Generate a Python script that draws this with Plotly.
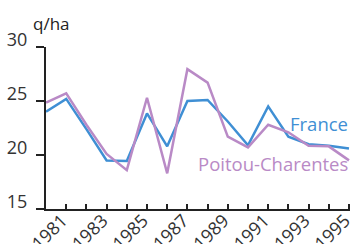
import plotly.graph_objects as go

years = list(range(1980, 1996))
france = [24.0, 25.2, 22.4, 19.5, 19.45, 23.85, 20.8, 25.0, 25.1, 23.1, 20.9, 24.5, 21.7, 21.0, 20.85, 20.6]
poitou = [24.85, 25.7, 22.8, 20.1, 18.6, 25.3, 18.3, 27.95, 26.7, 21.7, 20.7, 22.8, 22.1, 20.85, 20.8, 19.5]
y_ticks = [15, 20, 25, 30]
x_label_years = list(range(1981, 1996, 2))

BLUE = "#3f8fd4"
PURPLE = "#b98ac6"
FONT = "Open Sans"

fig = go.Figure()
fig.add_trace(go.Scatter(x=years, y=france, mode="lines", line=dict(color=BLUE, width=2.5), name="France"))
fig.add_trace(go.Scatter(x=years, y=poitou, mode="lines", line=dict(color=PURPLE, width=2.5), name="Poitou-Charentes"))

fig.update_layout(
    width=350, height=244,
    margin=dict(l=46, r=0, t=47, b=35),
    paper_bgcolor="white", plot_bgcolor="white",
    showlegend=False,
    font=dict(family=FONT, color="#333333"),
    xaxis=dict(
        range=[1980, 1995.05], automargin=False,
        tickmode="array", tickvals=x_label_years, ticktext=[str(y) for y in x_label_years],
        tickangle=-45, ticks="inside", ticklen=5, tickwidth=1.5, tickcolor="#222",
        minor=dict(dtick=1, tick0=1980, ticks="inside", ticklen=5, tickwidth=1.5, tickcolor="#222"),
        showline=True, linecolor="#222", linewidth=2,
        showgrid=False, zeroline=False,
        ticklabelstandoff=-8, ticklabelshift=-4, ticklabeloverflow="allow",
        tickfont=dict(size=18, family=FONT, color="#333333"),
    ),
    yaxis=dict(
        range=[15, 30], automargin=False,
        tickmode="array", tickvals=y_ticks,
        ticks="outside", ticklen=8, tickwidth=1.5, tickcolor="#222",
        showline=True, linecolor="#222", linewidth=2,
        showgrid=False, zeroline=False,
        ticklabelshift=-7, ticklabelstandoff=5, ticklabeloverflow="allow",
        tickfont=dict(size=18, family=FONT, color="#333333"),
    ),
    annotations=[
        dict(text="q/ha", xref="paper", yref="paper", x=-0.05, y=1.0, xanchor="left", yanchor="bottom",
             showarrow=False, font=dict(size=17, family=FONT, color="#222"), yshift=10),
        dict(text="France", xref="paper", yref="paper", x=1.0, y=(244 - 35 - 123) / 162, xanchor="right", yanchor="middle",
             showarrow=False, font=dict(size=18.5, family=FONT, color=BLUE)),
        dict(text="Poitou-Charentes", xref="paper", yref="paper", x=1.0, y=(244 - 35 - 163) / 162, xanchor="right", yanchor="middle",
             showarrow=False, font=dict(size=18.5, family=FONT, color=PURPLE)),
    ],
)

fig.write_html("out.html", config={"displayModeBar": False},
               post_script="document.body.style.margin='0';document.body.style.overflow='hidden';")
